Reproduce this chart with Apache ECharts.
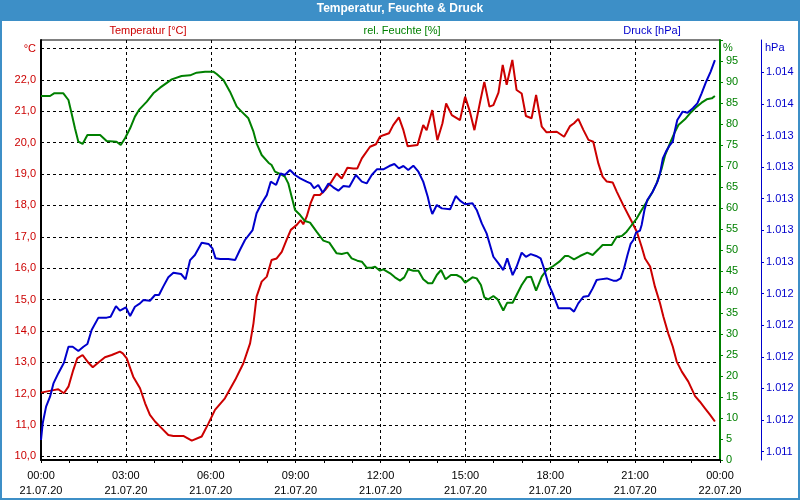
<!DOCTYPE html>
<html>
<head>
<meta charset="utf-8">
<script src="https://cdn.jsdelivr.net/npm/echarts@6/dist/echarts.min.js"></script>
<style>html,body{margin:0;padding:0;background:#fff}#chart{width:800px;height:500px}</style>
</head>
<body>
<div id="chart"></div>
<script>
// ---- data (hours since 21.07.20 00:00) ----
const chartTitle = 'Temperatur, Feuchte & Druck';
const seriesNames = ['Temperatur [°C]', 'rel. Feuchte [%]', 'Druck [hPa]'];

const tempHours = [0,0.44,0.61,0.81,0.97,1.14,1.28,1.47,1.67,1.83,2.03,2.26,2.5,2.79,2.89,3.03,3.26,3.5,3.68,3.85,4.03,4.27,4.5,4.68,5.03,5.33,5.68,5.92,6.15,6.5,6.86,7.15,7.39,7.51,7.62,7.8,7.98,8.15,8.33,8.51,8.68,8.83,9.04,9.18,9.27,9.39,9.53,9.65,9.86,10.04,10.27,10.45,10.63,10.83,11.04,11.18,11.34,11.63,11.84,11.98,12.1,12.3,12.45,12.65,12.81,12.96,13.31,13.51,13.63,13.83,14.01,14.19,14.32,14.52,14.81,14.99,15.16,15.32,15.52,15.67,15.85,15.99,16.17,16.32,16.46,16.66,16.81,16.99,17.14,17.34,17.5,17.7,17.87,18.23,18.49,18.7,18.84,18.99,19.17,19.35,19.52,19.7,19.85,20,20.21,20.35,20.58,20.82,21.06,21.23,21.35,21.53,21.7,21.88,22,22.17,22.33,22.47,22.65,22.88,23.12,23.29,23.47,23.65,23.82];
const tempValues = [12.03,12.11,12.14,12.01,12.22,12.75,13.12,13.23,12.99,12.84,12.99,13.16,13.23,13.34,13.28,13.12,12.54,12.17,11.69,11.32,11.11,10.89,10.68,10.65,10.65,10.5,10.63,11.05,11.48,11.85,12.43,12.96,13.6,14.24,15.09,15.57,15.73,16.26,16.31,16.52,16.9,17.22,17.38,17.53,17.4,17.64,18.07,18.33,18.33,18.49,18.76,19.02,18.86,19.2,19.18,19.18,19.5,19.87,19.95,20.19,20.24,20.3,20.56,20.81,20.4,19.89,19.93,20.56,20.4,21.04,20.08,20.62,21.25,20.88,20.72,21.47,20.99,20.4,21.3,21.94,21.15,21.2,21.6,22.48,21.85,22.64,21.68,21.57,20.85,20.78,21.52,20.51,20.33,20.35,20.19,20.53,20.62,20.76,20.41,20.09,20.03,19.34,18.92,18.76,18.73,18.44,18.01,17.59,17.16,16.68,16.31,16.05,15.41,14.88,14.45,13.92,13.5,13.02,12.7,12.38,11.92,11.74,11.53,11.32,11.11];

const humHours = [0,0.32,0.46,0.79,0.97,1.08,1.2,1.32,1.47,1.64,2.09,2.32,2.67,2.82,2.97,3.15,3.32,3.48,3.74,3.97,4.21,4.62,4.97,5.27,5.5,5.8,6.09,6.21,6.45,6.68,6.92,7.09,7.33,7.51,7.62,7.8,8.04,8.15,8.27,8.45,8.62,8.74,8.86,8.98,9.16,9.33,9.51,9.74,9.98,10.19,10.45,10.63,10.83,10.98,11.18,11.34,11.51,11.69,11.81,11.98,12.1,12.34,12.51,12.69,12.84,12.98,13.16,13.34,13.51,13.69,13.83,13.99,14.14,14.3,14.49,14.69,14.85,14.99,15.25,15.4,15.55,15.67,15.81,15.99,16.14,16.26,16.34,16.48,16.67,16.81,16.99,17.17,17.32,17.5,17.7,17.87,18.11,18.32,18.52,18.64,18.84,19.05,19.31,19.5,19.7,19.85,20.17,20.35,20.53,20.7,20.88,21.06,21.23,21.41,21.59,21.76,21.94,22.06,22.23,22.41,22.53,22.76,22.94,23.18,23.35,23.53,23.71,23.82];
const humValues = [86.67,86.67,87.3,87.3,85.71,82.54,78.97,75.79,75.24,77.38,77.38,75.95,75.79,75,76.59,78.97,81.75,83.49,85.32,87.3,88.65,90.63,91.43,91.59,92.22,92.46,92.46,91.9,90.48,87.7,84.13,82.94,81.35,78.17,75.4,72.62,70.79,70.24,68.65,68.1,67.46,65.87,62.7,59.52,58.33,56.9,56.51,54.37,52.22,51.75,49.21,49.05,49.37,48.02,47.46,47.22,45.79,45.79,46.03,45.08,45.4,44.44,43.49,42.7,43.49,45.4,45.08,45.08,43.02,42.06,42.06,44.05,45.24,43.02,44.05,44.05,43.49,42.22,43.49,43.25,41.67,38.73,38.25,39.05,38.25,36.67,35.6,37.46,37.46,39.29,41.67,43.49,43.65,40.32,43.65,45.24,46.19,47.22,48.57,48.57,47.78,48.57,49.37,48.81,50.16,51.19,51.19,53.17,53.33,54.37,55.95,57.54,59.52,61.51,63.49,65.87,69.44,72.62,75.4,78.17,79.76,81.11,82.54,84.13,85.08,85.87,86.11,86.67];

const presHours = [0,0.06,0.18,0.32,0.44,0.61,0.81,0.97,1.12,1.32,1.5,1.64,1.79,2.03,2.32,2.46,2.65,2.79,3,3.15,3.32,3.5,3.62,3.85,4.03,4.17,4.32,4.5,4.68,4.95,5.11,5.27,5.44,5.68,5.92,6.06,6.17,6.33,6.62,6.86,7.03,7.21,7.48,7.62,7.8,7.98,8.12,8.19,8.31,8.47,8.62,8.8,8.98,9.16,9.39,9.53,9.65,9.8,9.96,10.16,10.33,10.51,10.69,10.9,11.13,11.34,11.51,11.69,11.87,12.1,12.31,12.49,12.65,12.81,12.98,13.16,13.34,13.51,13.67,13.75,13.83,13.99,14.17,14.46,14.66,14.81,14.99,15.25,15.4,15.58,15.75,15.87,15.99,16.17,16.34,16.48,16.67,16.81,16.99,17.14,17.31,17.5,17.66,17.76,17.93,18.11,18.29,18.52,18.7,18.84,18.99,19.17,19.35,19.5,19.64,19.76,20,20.23,20.35,20.49,20.61,20.73,20.84,20.94,21.03,21.17,21.23,21.33,21.43,21.62,21.79,21.88,21.98,22.09,22.23,22.33,22.41,22.49,22.68,22.85,23.04,23.2,23.35,23.51,23.67,23.82];
const presValues = [1011.474,1011.579,1011.685,1011.748,1011.832,1011.895,1011.963,1012.064,1012.064,1012.037,1012.064,1012.081,1012.17,1012.248,1012.248,1012.254,1012.321,1012.292,1012.313,1012.258,1012.317,1012.338,1012.359,1012.355,1012.391,1012.391,1012.444,1012.503,1012.532,1012.524,1012.49,1012.612,1012.644,1012.722,1012.714,1012.686,1012.623,1012.619,1012.619,1012.612,1012.676,1012.739,1012.802,1012.908,1012.971,1013.023,1013.108,1013.118,1013.087,1013.16,1013.15,1013.182,1013.15,1013.129,1013.108,1013.097,1013.066,1013.087,1013.038,1013.097,1013.072,1013.051,1013.08,1013.076,1013.15,1013.108,1013.097,1013.15,1013.186,1013.186,1013.207,1013.22,1013.192,1013.207,1013.182,1013.209,1013.171,1013.108,1013.013,1012.95,1012.903,1012.96,1012.939,1012.933,1013.017,1012.988,1012.965,1012.971,1012.929,1012.844,1012.781,1012.707,1012.633,1012.591,1012.549,1012.623,1012.517,1012.57,1012.659,1012.633,1012.65,1012.638,1012.623,1012.57,1012.465,1012.391,1012.307,1012.307,1012.307,1012.286,1012.338,1012.38,1012.385,1012.433,1012.486,1012.49,1012.496,1012.482,1012.482,1012.496,1012.56,1012.644,1012.714,1012.739,1012.785,1012.798,1012.834,1012.929,1012.992,1013.044,1013.108,1013.16,1013.255,1013.298,1013.34,1013.361,1013.435,1013.498,1013.551,1013.544,1013.572,1013.603,1013.667,1013.74,1013.804,1013.877];

// ---- axis ticks / labels ----
const xTickHours = [0,3,6,9,12,15,18,21,24];
const xTickTimes = ['00:00','03:00','06:00','09:00','12:00','15:00','18:00','21:00','00:00'];
const xTickDates = ['21.07.20','21.07.20','21.07.20','21.07.20','21.07.20','21.07.20','21.07.20','21.07.20','22.07.20'];
const tempTickValues = [10,11,12,13,14,15,16,17,18,19,20,21,22,23];
const tempTickLabels = ['10,0','11,0','12,0','13,0','14,0','15,0','16,0','17,0','18,0','19,0','20,0','21,0','22,0','°C'];
const humTickValues = [0,5,10,15,20,25,30,35,40,45,50,55,60,65,70,75,80,85,90,95];
const presTickValues = [1011.4,1011.6,1011.8,1012.0,1012.2,1012.4,1012.6,1012.8,1013.0,1013.2,1013.4,1013.6,1013.8];
const presTickLabels = ['1.011','1.012','1.012','1.012','1.012','1.012','1.013','1.013','1.013','1.013','1.013','1.014','1.014'];

const FONT = 'Liberation Sans';
const RED = '#cc0000', GREEN = '#008000', BLUE = '#0000cc', BAR = '#3d8fc7';

const zip = (h, v) => h.map((x, i) => [x, v[i]]);
const nearIdx = (arr, v) => { let b = 0; arr.forEach((a, i) => { if (Math.abs(a - v) < Math.abs(arr[b] - v)) b = i; }); return b; };

const chart = echarts.init(document.getElementById('chart'), null, {renderer: 'canvas'});
chart.setOption({
  animation: false,
  backgroundColor: '#ffffff',
  textStyle: {fontFamily: FONT},
  graphic: [
    {type: 'rect', z: -10, silent: true, shape: {x: 0, y: 0, width: 800, height: 21}, style: {fill: BAR}},
    {type: 'rect', z: -10, silent: true, shape: {x: 1, y: 1, width: 798, height: 498}, style: {fill: 'none', stroke: BAR, lineWidth: 2}}
  ],
  title: [
    {text: chartTitle, left: 'center', top: 3, padding: 0, textStyle: {color: '#fff', fontSize: 12, fontWeight: 'bold', fontFamily: FONT}},
    {text: seriesNames[0], left: 148, top: 25, padding: 0, textAlign: 'center', textStyle: {color: RED, fontSize: 11, fontWeight: 'normal', fontFamily: FONT}},
    {text: seriesNames[1], left: 402, top: 25, padding: 0, textAlign: 'center', textStyle: {color: GREEN, fontSize: 11, fontWeight: 'normal', fontFamily: FONT}},
    {text: seriesNames[2], left: 652, top: 25, padding: 0, textAlign: 'center', textStyle: {color: BLUE, fontSize: 11, fontWeight: 'normal', fontFamily: FONT}}
  ],
  grid: {left: 41, right: 80, top: 40, bottom: 40, show: true, borderColor: '#000', borderWidth: 1, backgroundColor: '#fff'},
  xAxis: {
    type: 'value', min: 0, max: 24, interval: 3,
    axisLine: {lineStyle: {color: '#000', width: 2}},
    axisTick: {show: true, length: 3, lineStyle: {color: '#000'}},
    minorTick: {show: true, splitNumber: 3, length: 3, lineStyle: {color: '#000'}},
    axisLabel: {
      color: '#000', fontSize: 11, lineHeight: 15, margin: 8, fontFamily: FONT, showMaxLabel: true, showMinLabel: true,
      formatter: v => { const i = nearIdx(xTickHours, v); return xTickTimes[i] + '\n' + xTickDates[i]; }
    },
    splitLine: {show: true, lineStyle: {color: '#000', type: [3, 3], width: 1}}
  },
  yAxis: [
    {
      type: 'value', position: 'left', min: 9.882, max: 23.275,
      axisLine: {show: true, lineStyle: {color: '#000', width: 2}},
      axisTick: {show: false, customValues: tempTickValues},
      axisLabel: {customValues: tempTickValues, color: RED, fontSize: 11, margin: 5, fontFamily: FONT,
        formatter: v => tempTickLabels[nearIdx(tempTickValues, v)]},
      splitLine: {show: true, lineStyle: {color: '#000', type: [3, 3], width: 1}}
    },
    {
      type: 'value', position: 'right', offset: 0, min: 0, max: 100, interval: 5,
      name: '%', nameLocation: 'end', nameGap: -13,
      nameTextStyle: {color: GREEN, fontSize: 11, align: 'left', padding: [0, 0, 0, 3], fontFamily: FONT},
      axisLine: {show: true, lineStyle: {color: GREEN, width: 2}},
      axisTick: {show: true, length: 3, lineStyle: {color: GREEN}},
      axisLabel: {color: GREEN, fontSize: 11, margin: 6, fontFamily: FONT,
        formatter: v => (humTickValues.indexOf(v) >= 0 ? String(v) : '')},
      splitLine: {show: false}
    },
    {
      type: 'value', position: 'right', offset: 41, min: 1011.3475, max: 1014.004,
      name: 'hPa', nameLocation: 'end', nameGap: -13,
      nameTextStyle: {color: BLUE, fontSize: 11, align: 'left', padding: [0, 0, 0, 4], fontFamily: FONT},
      axisLine: {show: true, lineStyle: {color: BLUE, width: 1}},
      axisTick: {show: true, length: 3, customValues: presTickValues, lineStyle: {color: BLUE}},
      axisLabel: {customValues: presTickValues, color: BLUE, fontSize: 11, margin: 5, fontFamily: FONT,
        formatter: v => presTickLabels[nearIdx(presTickValues, v)]},
      splitLine: {show: false}
    }
  ],
  series: [
    {name: seriesNames[0], type: 'line', yAxisIndex: 0, data: zip(tempHours, tempValues), showSymbol: false, lineStyle: {color: RED, width: 2}, itemStyle: {color: RED}},
    {name: seriesNames[1], type: 'line', yAxisIndex: 1, data: zip(humHours, humValues), showSymbol: false, lineStyle: {color: GREEN, width: 2}, itemStyle: {color: GREEN}},
    {name: seriesNames[2], type: 'line', yAxisIndex: 2, data: zip(presHours, presValues), showSymbol: false, lineStyle: {color: BLUE, width: 2}, itemStyle: {color: BLUE}}
  ]
});
</script>
</body>
</html>
